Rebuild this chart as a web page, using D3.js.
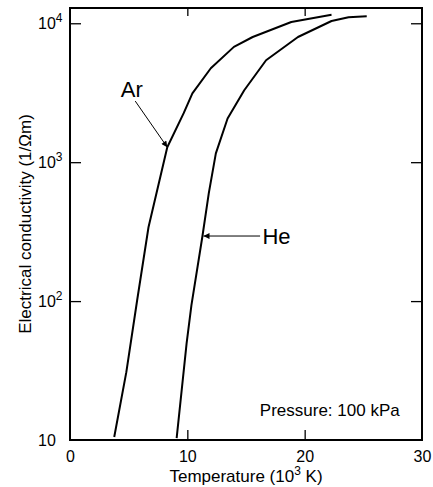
<!DOCTYPE html>
<html>
<head>
<meta charset="utf-8">
<script src="https://cdn.jsdelivr.net/npm/d3@7"></script>
<style>
  body { margin: 0; background: #fff; }
  svg { font-family: "Liberation Sans", Arial, sans-serif; }
  .curve { fill: none; stroke: #000; stroke-width: 2; stroke-linejoin: round; }
</style>
</head>
<body>
<div id="chart"></div>
<script>
// temperature in 10^3 K, conductivity in 1/(ohm m)
const arTemp = [3.77, 4.80, 5.72, 6.69, 8.29, 9.69, 10.43, 12.0, 13.97, 15.57, 18.86, 22.29]
const arCond = [10.5, 30.8, 101, 340, 1282, 2254, 3133, 4742, 6760, 7965, 10210, 11510]
const heTemp = [9.09, 9.94, 10.35, 11.29, 11.83, 12.43, 13.43, 14.85, 16.71, 19.43, 22.29, 23.74, 25.29]
const heCond = [10.3, 49.9, 93.5, 294, 598, 1156, 2061, 3296, 5420, 7965, 10380, 11050, 11220]

const xTicks = [0, 10, 20, 30]
const yTicks = [10, 100, 1000, 10000]
const yTickExp = ['', '2', '3', '4']

function makeChart() {
    let W = 433, H = 487,
        margin = { top: 8, right: 11, bottom: 47, left: 70 },
        width = W - margin.left - margin.right,
        height = H - margin.top - margin.bottom;

    let x = d3.scaleLinear().domain([0, 30]).range([0, width])
    let y = d3.scaleLog().domain([10, 12880]).range([height, 0])

    let line = d3.line()
        .x(d => x(d[0]))
        .y(d => y(d[1]))

    let svg = d3.select("#chart").append("svg")
        .attr("width", W)
        .attr("height", H)
      .append("g")
        .attr("transform", `translate(${margin.left},${margin.top})`)

    let defs = svg.append("defs")
    defs.append("marker")
        .attr("id", "arrow")
        .attr("viewBox", "0 0 10 10")
        .attr("refX", 10).attr("refY", 5)
        .attr("markerWidth", 8).attr("markerHeight", 6)
        .attr("markerUnits", "userSpaceOnUse")
        .attr("orient", "auto")
      .append("path")
        .attr("d", "M0,0L10,5L0,10z")
        .attr("fill", "#000")

    // curves
    svg.append("path")
        .datum(d3.zip(arTemp, arCond))
        .attr("class", "curve")
        .attr("d", line)
    svg.append("path")
        .datum(d3.zip(heTemp, heCond))
        .attr("class", "curve")
        .attr("d", line)

    // axes, ticks pointing inwards
    let fmt = g => g.call(g => g.select(".domain").remove())
        .call(g => g.selectAll(".tick line").attr("stroke", "#000").attr("stroke-width", 1.3))

    svg.append("g")
        .attr("transform", `translate(0,${height})`)
        .call(d3.axisBottom(x).tickValues(xTicks).tickSize(-10).tickPadding(7))
        .call(fmt)
        .call(g => g.selectAll(".tick text").attr("font-size", 16).attr("font-family", null).attr("fill", "#000").attr("dy", "0.95em"))
        .call(g => g.selectAll(".tick").filter(d => d === 0 || d === 30).select("line").remove())

    svg.append("g")
        .call(d3.axisTop(x).tickValues([10, 20]).tickSize(-8).tickFormat(""))
        .call(fmt)

    svg.append("g")
        .call(d3.axisLeft(y).tickValues(yTicks.slice(1)).tickSize(-11).tickFormat(""))
        .call(fmt)

    svg.append("g")
        .attr("transform", `translate(${width},0)`)
        .call(d3.axisRight(y).tickValues(yTicks.slice(1)).tickSize(-11).tickFormat(""))
        .call(fmt)

    // y tick labels with superscript powers
    let ylab = svg.append("g").selectAll("text")
        .data(yTicks)
        .join("text")
        .attr("x", -32)
        .attr("y", d => y(d))
        .attr("dy", "0.35em")
        .attr("font-size", 16)
    ylab.append("tspan").text("10")
    ylab.append("tspan")
        .attr("dy", -7)
        .attr("font-size", 12)
        .text((d, i) => yTickExp[i])

    // frame
    svg.append("rect")
        .attr("width", width)
        .attr("height", height)
        .attr("fill", "none")
        .attr("stroke", "#000")
        .attr("stroke-width", 2)

    // axis titles
    let xt = svg.append("text")
        .attr("x", width / 2)
        .attr("y", height + 42)
        .attr("text-anchor", "middle")
        .attr("font-size", 17)
    xt.append("tspan").text("Temperature (10")
    xt.append("tspan").attr("dy", -7).attr("font-size", 12).text("3")
    xt.append("tspan").attr("dy", 7).text(" K)")

    svg.append("text")
        .attr("transform", `translate(${-margin.left + 31},${height / 2}) rotate(-90)`)
        .attr("text-anchor", "middle")
        .attr("font-size", 17)
        .text("Electrical conductivity (1/\u03a9m)")

    // annotations
    svg.append("text")
        .attr("x", x(4.33)).attr("y", y(2965))
        .attr("font-size", 22)
        .text("Ar")
    svg.append("line")
        .attr("x1", x(5.56)).attr("y1", y(2754))
        .attr("x2", x(arTemp[4])).attr("y2", y(arCond[4]))
        .attr("stroke", "#000").attr("stroke-width", 1)
        .attr("marker-end", "url(#arrow)")

    svg.append("text")
        .attr("x", x(16.4)).attr("y", y(294))
        .attr("dy", "0.35em")
        .attr("font-size", 22)
        .text("He")
    svg.append("line")
        .attr("x1", x(16.2)).attr("y1", y(heCond[3]))
        .attr("x2", x(heTemp[3]) + 1).attr("y2", y(heCond[3]))
        .attr("stroke", "#000").attr("stroke-width", 1)
        .attr("marker-end", "url(#arrow)")

    svg.append("text")
        .attr("x", x(28.1)).attr("y", y(14.8))
        .attr("text-anchor", "end")
        .attr("font-size", 17)
        .text("Pressure: 100 kPa")
}

makeChart()
</script>
</body>
</html>
